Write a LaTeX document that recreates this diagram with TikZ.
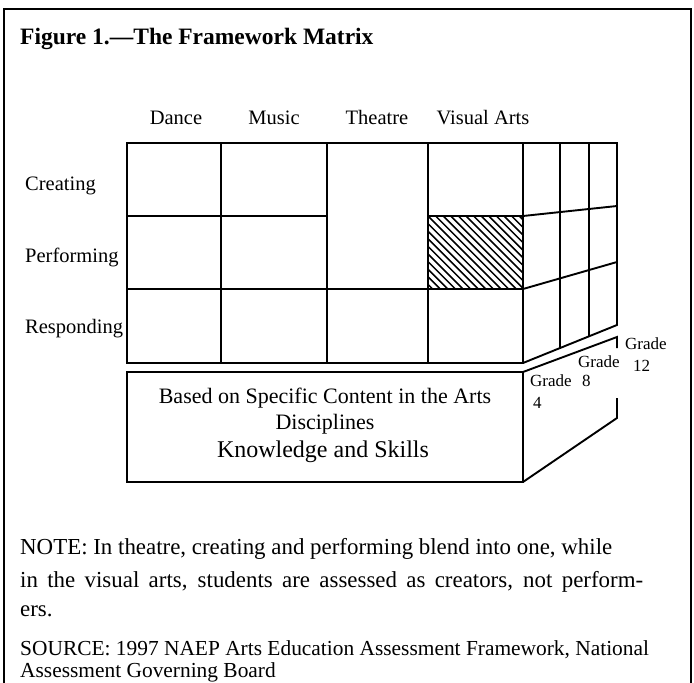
\documentclass[tikz,border=0pt]{standalone}
\usepackage{fontspec}
\setmainfont{Liberation Serif}
\begin{document}
\begin{tikzpicture}[x=1pt,y=-1pt,line join=miter,
  frameline/.style={line width=2.2pt},
  gridline/.style={line width=1.9pt},
  hatchline/.style={line width=1.5pt},
  titletext/.style={font=\fontsize{23.5}{28}\selectfont\bfseries,inner sep=0pt,anchor=base west},
  headtext/.style={font=\fontsize{20.5}{24}\selectfont,inner sep=0pt,anchor=base},
  rowtext/.style={font=\fontsize{20.5}{24}\selectfont,inner sep=0pt,anchor=base west},
  boxtext/.style={font=\fontsize{22}{26}\selectfont,inner sep=0pt,anchor=base},
  bigboxtext/.style={font=\fontsize{24}{28}\selectfont,inner sep=0pt,anchor=base},
  gradetext/.style={font=\fontsize{17}{20}\selectfont,inner sep=0pt,anchor=base west},
  notetext/.style={font=\fontsize{22.9}{27}\selectfont,inner sep=0pt,anchor=base west},
  srctext/.style={font=\fontsize{21.4}{26}\selectfont,inner sep=0pt,anchor=base west}]
\useasboundingbox (0,0) rectangle (694,683);
\fill[white] (0,0) rectangle (694,683);
% outer frame
\draw[frameline] (4,683) -- (4,9) -- (691,9) -- (691,683);
% title
\node[titletext] (title) at (20,44) {Figure 1.---The Framework Matrix};
% column headers
\node[headtext] (dance) at (176,124) {Dance};
\node[headtext] (music) at (274,124) {Music};
\node[headtext] (theatre) at (377,124) {Theatre};
\node[headtext] (visual) at (483,124) {Visual Arts};
% row labels
\node[rowtext] (creating) at (25,190) {Creating};
\node[rowtext] (performing) at (25,262) {Performing};
\node[rowtext] (responding) at (25,333) {Responding};
% hatched cell
\begin{scope}
\clip (428,216) rectangle (523,289);
\foreach \i in {0,...,22} {
  \draw[hatchline] ({352+\i*7.6},216) -- ++(75,75);
}
\end{scope}
% front face grid
\coordinate (ftl) at (127,143);
\coordinate (fbr) at (523,363);
\draw[gridline] (ftl) rectangle (fbr);
\foreach \x in {221,327,428} { \draw[gridline] (\x,143) -- (\x,363); }
\draw[gridline] (127,216) -- (327,216);
\draw[gridline] (428,216) -- (523,216);
\draw[gridline] (127,289) -- (523,289);
% side face
\coordinate (str) at (617,143);
\coordinate (sbr) at (617,325);
\draw[gridline] (523,143) -- (str) -- (sbr) -- (523,363);
\draw[gridline] (523,216) -- (617,206);
\draw[gridline] (523,289) -- (617,262);
\draw[gridline] (560,143) -- (560,348);
\draw[gridline] (589,143) -- (589,336.5);
% base box
\coordinate (btl) at (127,372);
\coordinate (bbr) at (523,482);
\draw[gridline] (btl) rectangle (bbr);
\draw[gridline] (523,372) -- (617,337) -- (617,348);
\draw[gridline] (617,398) -- (617,418) -- (523,482);
\node[boxtext] (based) at (325,403) {Based on Specific Content in the Arts};
\node[boxtext] (disc) at (325,429) {Disciplines};
\node[bigboxtext] (ks) at (323,457) {Knowledge and Skills};
% grade labels
\node[gradetext] (g12) at (625,349) {Grade};
\node[gradetext] (g8) at (578,367) {Grade};
\node[gradetext] (n12) at (633,371) {12};
\node[gradetext] (g4) at (530,386) {Grade};
\node[gradetext] (n8) at (582,386) {8};
\node[gradetext] (n4) at (533,408) {4};
% note and source
\node[notetext] (note1) at (20,554) {NOTE: In theatre, creating and performing blend into one, while};
\node[notetext] (note2) at (20,587) {\makebox[623pt][s]{in the visual arts, students are assessed as creators, not perform-}};
\node[notetext] (note3) at (20,616) {ers.};
\node[srctext] (src1) at (20,655) {SOURCE: 1997 NAEP Arts Education Assessment Framework, National};
\node[srctext] (src2) at (20,677) {Assessment Governing Board};
\end{tikzpicture}
\end{document}
